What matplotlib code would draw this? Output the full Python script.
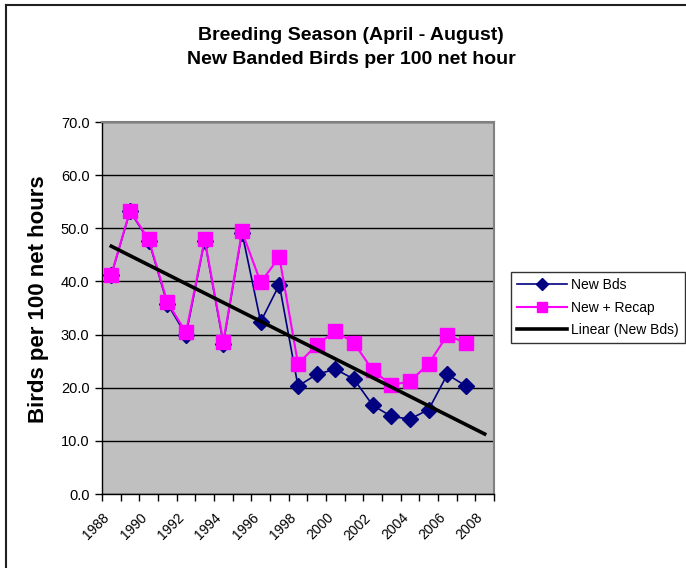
import numpy as np
import matplotlib.pyplot as plt
import matplotlib.transforms as mtransforms
from matplotlib.lines import Line2D

# data
years = [str(y) for y in range(1988, 2009)]
new_bds = [41.2, 53.2, 47.7, 35.8, 29.9, 47.7, 28.3, 49.2, 32.4, 39.4,
           20.3, 22.5, 23.5, 21.6, 16.7, 14.6, 14.1, 15.9, 22.5, 20.3]
new_recap = [41.3, 53.3, 47.9, 36.1, 30.4, 47.9, 28.6, 49.4, 39.8, 44.6,
             24.5, 28.0, 30.7, 28.4, 23.3, 20.5, 21.2, 24.5, 29.9, 28.4]

W, H = 686, 568
plt.rcParams['font.family'] = ['Liberation Sans', 'DejaVu Sans']

fig = plt.figure(figsize=(W / 100, H / 100), dpi=100)
ax = fig.add_axes([102 / W, (H - 494) / H, 392 / W, 372 / H])
ax.set_facecolor('#C0C0C0')

x = np.arange(len(new_bds))
ax.plot(x, new_bds, color='#000080', lw=1.2, marker='D', ms=8,
        mfc='#000080', mec='#000080', zorder=3, label='New Bds')
ax.plot(x, new_recap, color='#FF00FF', lw=1.5, marker='s', ms=9.5,
        mfc='#FF00FF', mec='#FF00FF', zorder=4, label='New + Recap')

# linear trendline of New Bds over the whole category range
coef = np.polyfit(x, new_bds, 1)
xt = np.array([0, len(years) - 1])
ax.plot(xt, np.polyval(coef, xt), color='black', lw=2.6, zorder=5,
        label='Linear (New Bds)')

ax.set_xlim(-0.5, len(years) - 0.5)
ax.set_ylim(0, 70)
ax.set_yticks(np.arange(0, 71, 10))
ax.set_yticklabels([f'{v:.1f}' for v in np.arange(0, 71, 10)], fontsize=10.5)
ax.yaxis.grid(True, color='black', lw=1)
ax.set_axisbelow(True)
ax.tick_params(axis='y', direction='out', length=5, width=1, pad=4)

ax.set_xticks(np.arange(-0.5, len(years), 1), minor=True)
ax.set_xticks(np.arange(0, len(years), 2))
ax.set_xticklabels(years[::2], rotation=45, ha='right', va='top',
                   rotation_mode='anchor', fontsize=10)
ax.tick_params(axis='x', which='major', length=0, pad=12)
ax.tick_params(axis='x', which='minor', direction='out', length=5, width=1)
shift = mtransforms.ScaledTranslation(-9 / 100, 0, fig.dpi_scale_trans)
for lab in ax.get_xticklabels():
    lab.set_transform(lab.get_transform() + shift)

for s in ['top', 'right']:
    ax.spines[s].set_color('#808080')
    ax.spines[s].set_linewidth(1.5)
for s in ['left', 'bottom']:
    ax.spines[s].set_color('black')
    ax.spines[s].set_linewidth(1)

fig.text(39 / W, 1 - 299 / H, 'Birds per 100 net hours', rotation=90,
         ha='center', va='center', fontsize=16, fontweight='bold')

fig.text(351 / W, 1 - 35 / H, 'Breeding Season (April - August)', ha='center',
         va='center', fontsize=14, fontweight='bold')
fig.text(351 / W, 1 - 60 / H, 'New Banded Birds per 100 net hour', ha='center',
         va='center', fontsize=14, fontweight='bold')

leg = fig.legend(loc='upper left', bbox_to_anchor=(511 / W, 1 - 272 / H),
                 fontsize=10, frameon=True, fancybox=False, edgecolor='black',
                 borderpad=0.45, handlelength=3.6, handletextpad=0.3,
                 labelspacing=0.6, borderaxespad=0, markerscale=0.75)
leg.get_frame().set_linewidth(1)

# chart area border (right and bottom edges fall outside the image)
fig.add_artist(Line2D([6 / W, 6 / W], [0, 1 - 5 / H], color='#202020', lw=1.5))
fig.add_artist(Line2D([6 / W, 1], [1 - 5 / H, 1 - 5 / H], color='#202020', lw=1.5))

fig.savefig('out.png', dpi=100)
